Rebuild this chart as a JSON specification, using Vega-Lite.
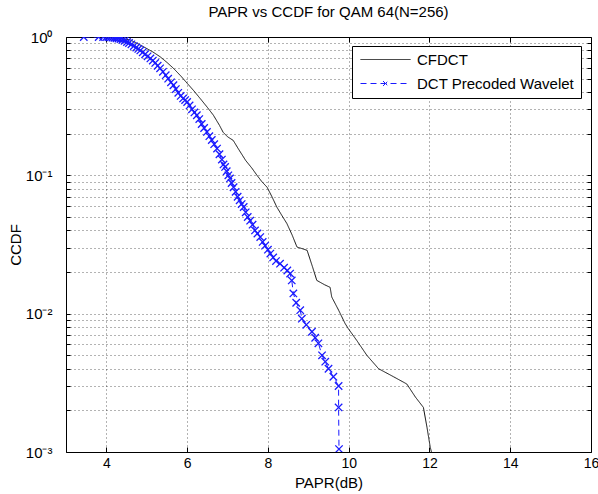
{
  "$schema": "https://vega.github.io/schema/vega-lite/v6.json",
  "width": 525,
  "height": 415,
  "autosize": "none",
  "padding": {"left": 66, "top": 37, "right": 7, "bottom": 42},
  "title": {"text": "PAPR vs CCDF for QAM 64(N=256)", "font": "Liberation Sans", "fontSize": 15, "fontWeight": "normal", "color": "#000", "offset": 10},
  "config": {
    "view": {"stroke": "#000", "strokeWidth": 1},
    "axis": {"labelFont": "Liberation Sans", "labelFontSize": 14, "labelColor": "#000", "titleFont": "Liberation Sans", "titleFontSize": 15, "titleFontWeight": "normal", "titleColor": "#000", "domain": false, "tickColor": "#000", "gridColor": "#000", "gridOpacity": 0.6, "gridDash": [1, 3], "labelOverlap": false, "labelFlush": false}
  },
  "data": {"values": [
    {"series":"CFDCT","order":0,"papr":3.9,"ccdf":1.0},
    {"series":"CFDCT","order":1,"papr":4.3,"ccdf":0.99},
    {"series":"CFDCT","order":2,"papr":4.6,"ccdf":0.95},
    {"series":"CFDCT","order":3,"papr":4.92,"ccdf":0.85},
    {"series":"CFDCT","order":4,"papr":5.15,"ccdf":0.78},
    {"series":"CFDCT","order":5,"papr":5.33,"ccdf":0.72},
    {"series":"CFDCT","order":6,"papr":5.5,"ccdf":0.655},
    {"series":"CFDCT","order":7,"papr":5.66,"ccdf":0.594},
    {"series":"CFDCT","order":8,"papr":5.85,"ccdf":0.52},
    {"series":"CFDCT","order":9,"papr":6.0,"ccdf":0.463},
    {"series":"CFDCT","order":10,"papr":6.16,"ccdf":0.41},
    {"series":"CFDCT","order":11,"papr":6.32,"ccdf":0.36},
    {"series":"CFDCT","order":12,"papr":6.5,"ccdf":0.31},
    {"series":"CFDCT","order":13,"papr":6.65,"ccdf":0.272},
    {"series":"CFDCT","order":14,"papr":6.8,"ccdf":0.23},
    {"series":"CFDCT","order":15,"papr":6.89,"ccdf":0.205},
    {"series":"CFDCT","order":16,"papr":7.0,"ccdf":0.19},
    {"series":"CFDCT","order":17,"papr":7.14,"ccdf":0.179},
    {"series":"CFDCT","order":18,"papr":7.27,"ccdf":0.155},
    {"series":"CFDCT","order":19,"papr":7.45,"ccdf":0.128},
    {"series":"CFDCT","order":20,"papr":7.6,"ccdf":0.113},
    {"series":"CFDCT","order":21,"papr":7.73,"ccdf":0.1},
    {"series":"CFDCT","order":22,"papr":7.85,"ccdf":0.09},
    {"series":"CFDCT","order":23,"papr":7.98,"ccdf":0.082},
    {"series":"CFDCT","order":24,"papr":8.1,"ccdf":0.07},
    {"series":"CFDCT","order":25,"papr":8.22,"ccdf":0.059},
    {"series":"CFDCT","order":26,"papr":8.35,"ccdf":0.051},
    {"series":"CFDCT","order":27,"papr":8.47,"ccdf":0.0448},
    {"series":"CFDCT","order":28,"papr":8.6,"ccdf":0.037},
    {"series":"CFDCT","order":29,"papr":8.72,"ccdf":0.0303},
    {"series":"CFDCT","order":30,"papr":8.85,"ccdf":0.0295},
    {"series":"CFDCT","order":31,"papr":8.97,"ccdf":0.0287},
    {"series":"CFDCT","order":32,"papr":9.1,"ccdf":0.022},
    {"series":"CFDCT","order":33,"papr":9.21,"ccdf":0.0174},
    {"series":"CFDCT","order":34,"papr":9.4,"ccdf":0.0162},
    {"series":"CFDCT","order":35,"papr":9.54,"ccdf":0.0155},
    {"series":"CFDCT","order":36,"papr":9.58,"ccdf":0.0132},
    {"series":"CFDCT","order":37,"papr":9.75,"ccdf":0.0106},
    {"series":"CFDCT","order":38,"papr":9.91,"ccdf":0.0085},
    {"series":"CFDCT","order":39,"papr":9.99,"ccdf":0.0078},
    {"series":"CFDCT","order":40,"papr":10.2,"ccdf":0.0064},
    {"series":"CFDCT","order":41,"papr":10.45,"ccdf":0.005},
    {"series":"CFDCT","order":42,"papr":10.74,"ccdf":0.004},
    {"series":"CFDCT","order":43,"papr":11.11,"ccdf":0.0035},
    {"series":"CFDCT","order":44,"papr":11.44,"ccdf":0.0031},
    {"series":"CFDCT","order":45,"papr":11.65,"ccdf":0.0025},
    {"series":"CFDCT","order":46,"papr":11.85,"ccdf":0.0021},
    {"series":"CFDCT","order":47,"papr":11.94,"ccdf":0.0015},
    {"series":"CFDCT","order":48,"papr":12.02,"ccdf":0.00108},
    {"series":"CFDCT","order":49,"papr":12.05,"ccdf":0.001},
    {"series":"DCT Precoded Wavelet","order":100,"papr":3.44,"ccdf":1.0},
    {"series":"DCT Precoded Wavelet","order":101,"papr":3.81,"ccdf":1.0},
    {"series":"DCT Precoded Wavelet","order":102,"papr":3.92,"ccdf":1.0},
    {"series":"DCT Precoded Wavelet","order":103,"papr":4.0,"ccdf":0.998},
    {"series":"DCT Precoded Wavelet","order":104,"papr":4.05,"ccdf":0.997},
    {"series":"DCT Precoded Wavelet","order":105,"papr":4.1,"ccdf":0.995},
    {"series":"DCT Precoded Wavelet","order":106,"papr":4.15,"ccdf":0.99},
    {"series":"DCT Precoded Wavelet","order":107,"papr":4.2,"ccdf":0.985},
    {"series":"DCT Precoded Wavelet","order":108,"papr":4.25,"ccdf":0.98},
    {"series":"DCT Precoded Wavelet","order":109,"papr":4.3,"ccdf":0.975},
    {"series":"DCT Precoded Wavelet","order":110,"papr":4.35,"ccdf":0.965},
    {"series":"DCT Precoded Wavelet","order":111,"papr":4.4,"ccdf":0.955},
    {"series":"DCT Precoded Wavelet","order":112,"papr":4.45,"ccdf":0.94},
    {"series":"DCT Precoded Wavelet","order":113,"papr":4.51,"ccdf":0.92},
    {"series":"DCT Precoded Wavelet","order":114,"papr":4.56,"ccdf":0.905},
    {"series":"DCT Precoded Wavelet","order":115,"papr":4.62,"ccdf":0.885},
    {"series":"DCT Precoded Wavelet","order":116,"papr":4.68,"ccdf":0.86},
    {"series":"DCT Precoded Wavelet","order":117,"papr":4.74,"ccdf":0.84},
    {"series":"DCT Precoded Wavelet","order":118,"papr":4.79,"ccdf":0.82},
    {"series":"DCT Precoded Wavelet","order":119,"papr":4.84,"ccdf":0.8},
    {"series":"DCT Precoded Wavelet","order":120,"papr":4.9,"ccdf":0.775},
    {"series":"DCT Precoded Wavelet","order":121,"papr":4.96,"ccdf":0.75},
    {"series":"DCT Precoded Wavelet","order":122,"papr":5.02,"ccdf":0.725},
    {"series":"DCT Precoded Wavelet","order":123,"papr":5.09,"ccdf":0.7},
    {"series":"DCT Precoded Wavelet","order":124,"papr":5.15,"ccdf":0.675},
    {"series":"DCT Precoded Wavelet","order":125,"papr":5.21,"ccdf":0.65},
    {"series":"DCT Precoded Wavelet","order":126,"papr":5.27,"ccdf":0.62},
    {"series":"DCT Precoded Wavelet","order":127,"papr":5.33,"ccdf":0.594},
    {"series":"DCT Precoded Wavelet","order":128,"papr":5.4,"ccdf":0.56},
    {"series":"DCT Precoded Wavelet","order":129,"papr":5.47,"ccdf":0.53},
    {"series":"DCT Precoded Wavelet","order":130,"papr":5.53,"ccdf":0.5},
    {"series":"DCT Precoded Wavelet","order":131,"papr":5.6,"ccdf":0.47},
    {"series":"DCT Precoded Wavelet","order":132,"papr":5.66,"ccdf":0.448},
    {"series":"DCT Precoded Wavelet","order":133,"papr":5.72,"ccdf":0.42},
    {"series":"DCT Precoded Wavelet","order":134,"papr":5.78,"ccdf":0.395},
    {"series":"DCT Precoded Wavelet","order":135,"papr":5.84,"ccdf":0.375},
    {"series":"DCT Precoded Wavelet","order":136,"papr":5.9,"ccdf":0.36},
    {"series":"DCT Precoded Wavelet","order":137,"papr":5.95,"ccdf":0.35},
    {"series":"DCT Precoded Wavelet","order":138,"papr":6.0,"ccdf":0.339},
    {"series":"DCT Precoded Wavelet","order":139,"papr":6.06,"ccdf":0.32},
    {"series":"DCT Precoded Wavelet","order":140,"papr":6.12,"ccdf":0.3},
    {"series":"DCT Precoded Wavelet","order":141,"papr":6.18,"ccdf":0.285},
    {"series":"DCT Precoded Wavelet","order":142,"papr":6.24,"ccdf":0.272},
    {"series":"DCT Precoded Wavelet","order":143,"papr":6.3,"ccdf":0.255},
    {"series":"DCT Precoded Wavelet","order":144,"papr":6.36,"ccdf":0.235},
    {"series":"DCT Precoded Wavelet","order":145,"papr":6.42,"ccdf":0.22},
    {"series":"DCT Precoded Wavelet","order":146,"papr":6.49,"ccdf":0.206},
    {"series":"DCT Precoded Wavelet","order":147,"papr":6.55,"ccdf":0.192},
    {"series":"DCT Precoded Wavelet","order":148,"papr":6.61,"ccdf":0.18},
    {"series":"DCT Precoded Wavelet","order":149,"papr":6.67,"ccdf":0.168},
    {"series":"DCT Precoded Wavelet","order":150,"papr":6.74,"ccdf":0.156},
    {"series":"DCT Precoded Wavelet","order":151,"papr":6.8,"ccdf":0.142},
    {"series":"DCT Precoded Wavelet","order":152,"papr":6.86,"ccdf":0.13},
    {"series":"DCT Precoded Wavelet","order":153,"papr":6.9,"ccdf":0.12},
    {"series":"DCT Precoded Wavelet","order":154,"papr":6.94,"ccdf":0.115},
    {"series":"DCT Precoded Wavelet","order":155,"papr":6.98,"ccdf":0.107},
    {"series":"DCT Precoded Wavelet","order":156,"papr":7.02,"ccdf":0.1},
    {"series":"DCT Precoded Wavelet","order":157,"papr":7.06,"ccdf":0.095},
    {"series":"DCT Precoded Wavelet","order":158,"papr":7.1,"ccdf":0.088},
    {"series":"DCT Precoded Wavelet","order":159,"papr":7.15,"ccdf":0.082},
    {"series":"DCT Precoded Wavelet","order":160,"papr":7.2,"ccdf":0.076},
    {"series":"DCT Precoded Wavelet","order":161,"papr":7.25,"ccdf":0.07},
    {"series":"DCT Precoded Wavelet","order":162,"papr":7.3,"ccdf":0.066},
    {"series":"DCT Precoded Wavelet","order":163,"papr":7.35,"ccdf":0.062},
    {"series":"DCT Precoded Wavelet","order":164,"papr":7.4,"ccdf":0.059},
    {"series":"DCT Precoded Wavelet","order":165,"papr":7.45,"ccdf":0.054},
    {"series":"DCT Precoded Wavelet","order":166,"papr":7.5,"ccdf":0.05},
    {"series":"DCT Precoded Wavelet","order":167,"papr":7.56,"ccdf":0.047},
    {"series":"DCT Precoded Wavelet","order":168,"papr":7.62,"ccdf":0.044},
    {"series":"DCT Precoded Wavelet","order":169,"papr":7.68,"ccdf":0.04},
    {"series":"DCT Precoded Wavelet","order":170,"papr":7.74,"ccdf":0.038},
    {"series":"DCT Precoded Wavelet","order":171,"papr":7.81,"ccdf":0.0358},
    {"series":"DCT Precoded Wavelet","order":172,"papr":7.87,"ccdf":0.033},
    {"series":"DCT Precoded Wavelet","order":173,"papr":7.93,"ccdf":0.031},
    {"series":"DCT Precoded Wavelet","order":174,"papr":8.0,"ccdf":0.029},
    {"series":"DCT Precoded Wavelet","order":175,"papr":8.06,"ccdf":0.0272},
    {"series":"DCT Precoded Wavelet","order":176,"papr":8.13,"ccdf":0.0255},
    {"series":"DCT Precoded Wavelet","order":177,"papr":8.2,"ccdf":0.024},
    {"series":"DCT Precoded Wavelet","order":178,"papr":8.3,"ccdf":0.023},
    {"series":"DCT Precoded Wavelet","order":179,"papr":8.4,"ccdf":0.0215},
    {"series":"DCT Precoded Wavelet","order":180,"papr":8.48,"ccdf":0.0205},
    {"series":"DCT Precoded Wavelet","order":181,"papr":8.55,"ccdf":0.0195},
    {"series":"DCT Precoded Wavelet","order":182,"papr":8.59,"ccdf":0.0174},
    {"series":"DCT Precoded Wavelet","order":183,"papr":8.63,"ccdf":0.014},
    {"series":"DCT Precoded Wavelet","order":184,"papr":8.7,"ccdf":0.012},
    {"series":"DCT Precoded Wavelet","order":185,"papr":8.8,"ccdf":0.0106},
    {"series":"DCT Precoded Wavelet","order":186,"papr":8.84,"ccdf":0.0092},
    {"series":"DCT Precoded Wavelet","order":187,"papr":8.95,"ccdf":0.0083},
    {"series":"DCT Precoded Wavelet","order":188,"papr":9.09,"ccdf":0.0074},
    {"series":"DCT Precoded Wavelet","order":189,"papr":9.17,"ccdf":0.0067},
    {"series":"DCT Precoded Wavelet","order":190,"papr":9.25,"ccdf":0.0061},
    {"series":"DCT Precoded Wavelet","order":191,"papr":9.34,"ccdf":0.005},
    {"series":"DCT Precoded Wavelet","order":192,"papr":9.42,"ccdf":0.0045},
    {"series":"DCT Precoded Wavelet","order":193,"papr":9.5,"ccdf":0.004},
    {"series":"DCT Precoded Wavelet","order":194,"papr":9.62,"ccdf":0.0035},
    {"series":"DCT Precoded Wavelet","order":195,"papr":9.75,"ccdf":0.003},
    {"series":"DCT Precoded Wavelet","order":196,"papr":9.75,"ccdf":0.0021},
    {"series":"DCT Precoded Wavelet","order":197,"papr":9.76,"ccdf":0.00105}
  ]},
  "layer": [
    {
      "mark": {"type": "line", "strokeWidth": 1, "clip": true},
      "encoding": {
        "x": {"field": "papr", "type": "quantitative", "scale": {"domain": [3, 16], "nice": false, "zero": false},
              "axis": {"orient": "bottom", "title": "PAPR(dB)", "values": [4, 6, 8, 10, 12, 14, 16], "tickSize": -5, "labelPadding": 9, "titlePadding": 5, "grid": true}},
        "y": {"field": "ccdf", "type": "quantitative", "scale": {"type": "log", "domain": [0.001, 1], "nice": false},
              "axis": {"orient": "left", "title": "CCDF", "titlePadding": 2,
                       "values": [0.001,0.002,0.003,0.004,0.005,0.006,0.007,0.008,0.009,0.01,0.02,0.03,0.04,0.05,0.06,0.07,0.08,0.09,0.1,0.2,0.3,0.4,0.5,0.6,0.7,0.8,0.9,1],
                       "labelExpr": "datum.value == 1 ? '10⁰' : datum.value == 0.1 ? '10⁻¹' : datum.value == 0.01 ? '10⁻²' : datum.value == 0.001 ? '10⁻³' : ''",
                       "labelFontSize": 15, "tickSize": -4, "labelPadding": 18, "grid": true}},
        "order": {"field": "order", "type": "quantitative"},
        "color": {"field": "series", "type": "nominal",
                  "scale": {"domain": ["CFDCT", "DCT Precoded Wavelet"], "range": ["#111111", "#1a1aff"]},
                  "legend": {"title": null, "orient": "none", "legendX": 286, "legendY": 9,
                             "fillColor": "#fff", "strokeColor": "#000", "padding": 6, "rowPadding": 8,
                             "labelFont": "Liberation Sans", "labelFontSize": 15, "labelColor": "#000",
                             "symbolSize": 100, "symbolStrokeWidth": 1, "symbolOffset": 20, "labelOffset": 24,
                             "symbolType": "M-5,0L5,0",
                             "encode": {"symbols": {"update": {"shape": {"signal": "datum.value === 'CFDCT' ? 'M-5,0L5,0' : 'M-5,0L5,0M-0.5,-0.5L0.5,0.5M-0.5,0.5L0.5,-0.5'"}}}}}},
        "strokeDash": {"field": "series", "type": "nominal",
                       "scale": {"domain": ["CFDCT", "DCT Precoded Wavelet"], "range": [[1, 0], [6, 4]]},
                       "legend": {"title": null, "orient": "none", "legendX": 286, "legendY": 9}}
      }
    },
    {
      "transform": [{"filter": "datum.series === 'DCT Precoded Wavelet'"}],
      "mark": {"type": "point", "shape": "M-1,-1L1,1M-1,1L1,-1", "filled": false, "stroke": "#1a1aff", "strokeWidth": 1.3, "size": 55, "opacity": 1, "clip": true},
      "encoding": {
        "x": {"field": "papr", "type": "quantitative", "scale": {"domain": [3, 16], "nice": false, "zero": false},
              "axis": {"orient": "top", "title": null, "labels": false, "grid": false, "values": [4, 6, 8, 10, 12, 14], "tickSize": -5}},
        "y": {"field": "ccdf", "type": "quantitative", "scale": {"type": "log", "domain": [0.001, 1], "nice": false},
              "axis": {"orient": "right", "title": null, "labels": false, "grid": false, "tickSize": -4,
                       "values": [0.002,0.003,0.004,0.005,0.006,0.007,0.008,0.009,0.01,0.02,0.03,0.04,0.05,0.06,0.07,0.08,0.09,0.1,0.2,0.3,0.4,0.5,0.6,0.7,0.8,0.9]}}
      }
    }
  ],
  "resolve": {"axis": {"x": "independent", "y": "independent"}}
}
